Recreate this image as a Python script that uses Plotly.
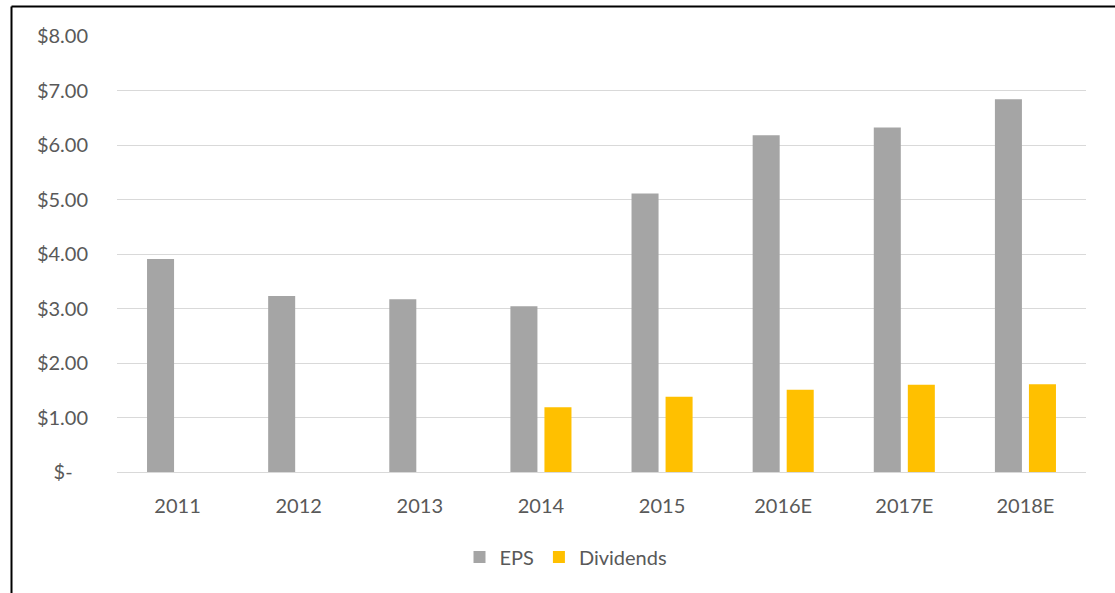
import plotly.graph_objects as go

# Earnings per share and dividends per share, actual and estimated
years = ["2011", "2012", "2013", "2014", "2015", "2016E", "2017E", "2018E"]
eps = [3.91, 3.23, 3.17, 3.04, 5.11, 6.18, 6.32, 6.84]
dividends = [None, None, None, 1.19, 1.38, 1.51, 1.60, 1.61]

y_ticks = [0, 1, 2, 3, 4, 5, 6, 7, 8]
y_tick_labels = ["$-\u00a0\u00a0\u00a0", "$1.00", "$2.00", "$3.00", "$4.00",
                 "$5.00", "$6.00", "$7.00", "$8.00"]

W, H = 1115, 593
L, R, T, B = 117, 29, 36, 121
plot_w = W - L - R
plot_h = H - T - B

text_color = "#595959"
font_family = "Lato, Open Sans, sans-serif"
font_size = 20

fig = go.Figure()
fig.add_trace(go.Bar(name="EPS", x=years, y=eps, marker_color="#a5a5a5",
                     marker_line_width=0))
fig.add_trace(go.Bar(name="Dividends", x=years, y=dividends, marker_color="#ffc000",
                     marker_line_width=0))


def px_x(p):
    return (p - L) / plot_w


def px_y(p):
    return (H - B - p) / plot_h


# Chart frame: left and top edges
fig.add_shape(type="line", xref="paper", yref="paper",
              x0=px_x(11.5), x1=px_x(1200), y0=px_y(6.5), y1=px_y(6.5),
              line=dict(color="#000000", width=2))
fig.add_shape(type="line", xref="paper", yref="paper",
              x0=px_x(11.5), x1=px_x(11.5), y0=px_y(6.5), y1=px_y(650),
              line=dict(color="#000000", width=2))

fig.update_layout(
    width=W, height=H,
    margin=dict(l=L, r=R, t=T, b=B, pad=0),
    paper_bgcolor="white", plot_bgcolor="white",
    barmode="group", bargap=0.438, bargroupgap=0.206,
    font=dict(family=font_family, size=font_size, color=text_color),
    showlegend=True,
    legend=dict(orientation="h", x=px_x(566), xanchor="center",
                y=px_y(557), yanchor="middle",
                font=dict(size=font_size, color=text_color),
                itemwidth=30, tracegroupgap=0),
    xaxis=dict(showgrid=False, showline=False, ticks="",
               ticklabelstandoff=20,
               tickfont=dict(size=font_size, color=text_color)),
    yaxis=dict(range=[0, 8], tickvals=y_ticks, ticktext=y_tick_labels,
               showgrid=True, gridcolor="#d9d9d9", gridwidth=1.3,
               zeroline=True, zerolinecolor="#d9d9d9", zerolinewidth=1.3,
               showline=False, ticks="", ticklabelstandoff=28,
               tickfont=dict(size=font_size, color=text_color)),
)

fig.write_html("out.html")
